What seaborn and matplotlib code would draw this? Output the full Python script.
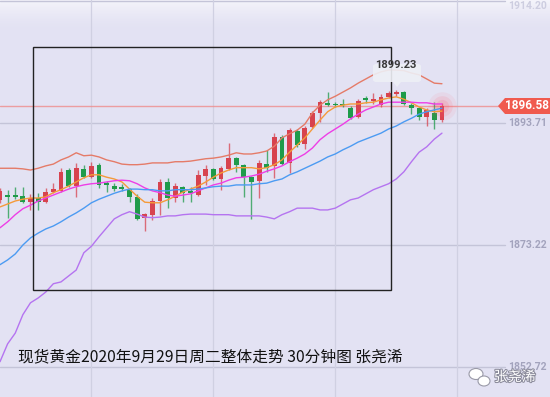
import matplotlib
matplotlib.use("Agg")
import matplotlib.pyplot as plt
import matplotlib.patheffects as pe
from matplotlib.patches import Rectangle, Polygon, FancyBboxPatch, Ellipse
import numpy as np
import pandas as pd
import seaborn as sns

# 30 minute gold candles
opens = [1880.8, 1881.4, 1881.4, 1881.4, 1880.4, 1881.1, 1880.4, 1882.1, 1882.3, 1885.8,
         1883.1, 1886.0, 1884.6, 1886.7, 1883.5, 1883.1, 1882.8, 1882.6, 1881.3, 1877.8,
         1878.3, 1880.6, 1883.8, 1881.1, 1883.0, 1882.1, 1881.6, 1884.8, 1886.0, 1884.3,
         1886.0, 1887.8, 1886.7, 1884.6, 1884.0, 1886.8, 1886.5, 1891.4, 1887.0, 1892.4,
         1890.2, 1893.0, 1895.4, 1897.1, 1896.9, 1896.9, 1896.2, 1894.7, 1897.7, 1897.4,
         1896.7, 1898.1, 1898.6, 1898.9, 1896.7, 1896.2, 1894.7, 1895.4, 1894.2]
highs = [1882.8, 1882.4, 1882.9, 1882.9, 1881.8, 1881.9, 1882.8, 1883.6, 1886.2, 1886.2,
         1887.0, 1886.7, 1887.2, 1887.0, 1884.0, 1883.6, 1883.5, 1882.8, 1881.8, 1878.6,
         1881.1, 1884.3, 1884.5, 1883.6, 1883.1, 1882.9, 1885.8, 1886.7, 1886.2, 1886.5,
         1890.4, 1888.0, 1886.8, 1884.8, 1887.5, 1889.2, 1892.0, 1891.7, 1892.9, 1892.7,
         1893.2, 1895.7, 1897.6, 1898.9, 1897.2, 1897.7, 1896.6, 1897.7, 1898.2, 1898.8,
         1898.6, 1899.1, 1899.23, 1899.1, 1897.1, 1896.4, 1896.2, 1897.2, 1897.1]
lows = [1880.3, 1877.8, 1881.0, 1880.3, 1879.1, 1879.1, 1880.3, 1882.0, 1882.1, 1883.0,
        1881.3, 1884.5, 1884.5, 1882.8, 1882.1, 1882.3, 1882.3, 1880.4, 1877.4, 1875.6,
        1877.4, 1878.3, 1879.4, 1880.4, 1880.4, 1880.4, 1881.4, 1883.3, 1884.1, 1882.5,
        1885.8, 1885.5, 1881.3, 1877.6, 1881.1, 1885.5, 1884.5, 1886.7, 1885.3, 1889.7,
        1889.3, 1892.9, 1893.9, 1896.6, 1896.4, 1896.4, 1894.4, 1894.5, 1897.1, 1896.9,
        1896.4, 1897.9, 1898.3, 1896.7, 1895.2, 1894.2, 1893.2, 1892.7, 1893.9]
closes = [1882.3, 1881.3, 1881.3, 1880.4, 1881.1, 1880.4, 1882.1, 1882.6, 1885.5, 1883.1,
          1886.2, 1884.6, 1886.5, 1883.3, 1883.3, 1882.6, 1882.6, 1881.3, 1877.6, 1878.4,
          1880.6, 1883.8, 1881.1, 1883.1, 1882.0, 1882.0, 1885.0, 1886.0, 1884.3, 1886.2,
          1887.8, 1886.7, 1884.6, 1883.8, 1887.0, 1886.2, 1891.4, 1886.8, 1892.5, 1890.0,
          1892.9, 1895.4, 1897.2, 1896.7, 1896.7, 1896.7, 1894.5, 1897.4, 1897.6, 1897.6,
          1898.1, 1898.8, 1898.9, 1896.9, 1896.2, 1894.7, 1895.9, 1894.2, 1896.58]

# indicator lines
upper_band = [1886.1, 1886.1, 1886.1, 1886.0, 1885.8, 1886.1, 1886.5, 1886.8, 1887.5, 1888.0,
              1888.7, 1888.2, 1888.3, 1888.0, 1887.5, 1887.2, 1886.8, 1886.7, 1886.7, 1886.8,
              1887.0, 1887.0, 1887.0, 1887.2, 1887.2, 1887.3, 1887.5, 1887.7, 1887.8, 1888.0,
              1888.3, 1888.7, 1888.5, 1888.5, 1888.7, 1889.0, 1889.8, 1891.2, 1891.9, 1892.5,
              1893.5, 1895.4, 1896.7, 1897.6, 1898.2, 1898.9, 1899.6, 1900.4, 1901.1, 1901.8,
              1902.3, 1902.6, 1902.6, 1902.5, 1902.1, 1901.8, 1901.1, 1900.4, 1900.3]
ma_fast = [1879.6, 1880.1, 1880.6, 1880.9, 1881.1, 1881.1, 1881.3, 1882.0, 1882.5, 1883.1,
           1883.8, 1884.5, 1885.0, 1885.0, 1884.6, 1884.3, 1883.8, 1882.6, 1881.4, 1880.4,
           1880.3, 1880.3, 1880.8, 1881.4, 1882.1, 1882.6, 1883.1, 1883.8, 1884.6, 1885.3,
           1885.8, 1886.2, 1886.2, 1886.2, 1886.0, 1886.2, 1886.7, 1887.5, 1888.8, 1890.0,
           1891.2, 1892.7, 1894.2, 1895.6, 1896.4, 1896.7, 1896.9, 1896.9, 1897.1, 1897.2,
           1897.6, 1897.9, 1898.1, 1897.7, 1897.1, 1896.4, 1895.9, 1895.6, 1895.7]
ma_mid = [1876.1, 1877.1, 1878.3, 1879.3, 1879.9, 1880.6, 1881.1, 1881.6, 1882.1, 1882.6,
          1883.0, 1883.3, 1883.5, 1883.6, 1883.8, 1884.0, 1884.1, 1884.0, 1883.5, 1882.8,
          1882.3, 1882.0, 1881.6, 1881.4, 1881.6, 1881.8, 1882.3, 1882.8, 1883.3, 1883.6,
          1884.1, 1884.5, 1884.6, 1884.8, 1885.1, 1885.6, 1886.0, 1886.5, 1887.2, 1887.8,
          1888.5, 1889.5, 1890.9, 1891.9, 1892.7, 1893.5, 1894.4, 1895.2, 1895.9, 1896.4,
          1896.9, 1897.2, 1897.2, 1897.2, 1897.2, 1897.1, 1897.1, 1896.9, 1896.9]
ma_slow = [1869.9, 1870.7, 1871.7, 1873.2, 1874.4, 1875.2, 1875.9, 1876.4, 1877.1, 1877.9,
           1878.6, 1879.4, 1880.3, 1880.9, 1881.4, 1881.9, 1882.3, 1882.6, 1882.6, 1882.5,
           1882.5, 1882.3, 1882.3, 1882.5, 1882.5, 1882.5, 1882.6, 1882.8, 1883.0, 1883.1,
           1883.1, 1883.3, 1883.3, 1883.3, 1883.5, 1883.6, 1884.0, 1884.3, 1885.0, 1885.5,
           1886.1, 1886.7, 1887.3, 1888.0, 1888.5, 1889.2, 1889.8, 1890.5, 1891.0, 1891.5,
           1892.0, 1892.7, 1893.2, 1893.9, 1894.5, 1895.2, 1895.6, 1895.9, 1896.2]
lower_band = [1853.6, 1856.6, 1858.4, 1861.5, 1863.5, 1864.3, 1865.3, 1866.7, 1867.0, 1868.0,
              1869.0, 1871.9, 1873.0, 1874.6, 1876.1, 1877.6, 1878.3, 1878.8, 1878.4, 1877.9,
              1877.8, 1877.9, 1878.1, 1878.1, 1878.3, 1878.4, 1878.4, 1878.4, 1878.3, 1878.3,
              1878.3, 1878.1, 1878.1, 1878.1, 1878.1, 1877.9, 1877.6, 1878.3, 1878.8, 1879.4,
              1879.4, 1879.4, 1879.1, 1879.1, 1879.4, 1880.1, 1880.8, 1881.1, 1881.8, 1882.5,
              1883.0, 1883.5, 1884.3, 1885.5, 1887.2, 1888.8, 1889.7, 1891.0, 1892.0]

axis_labels = [1914.20, 1893.71, 1873.22, 1852.72]
last_price = 1896.58
peak_price = 1899.23
title = "现货黄金2020年9月29日周二整体走势 30分钟图 张尧浠"
watermark = "张尧浠"

bg = "#e3e2f3"
red = "#d7434f"
green = "#1f9b4a"

df = pd.DataFrame({"open": opens, "high": highs, "low": lows, "close": closes})
df["idx"] = np.arange(len(df))
df["up"] = df["close"] >= df["open"]

lines = pd.DataFrame({"idx": df["idx"], "upper": upper_band, "fast": ma_fast,
                      "mid": ma_mid, "slow": ma_slow, "lower": lower_band})
lines_long = lines.melt(id_vars="idx", var_name="line", value_name="price")
palette = {"upper": "#e57b68", "fast": "#f59a3a", "mid": "#ee3ee6",
           "slow": "#4c9bf2", "lower": "#b574f0"}

sns.set_theme(style="white")
plt.rcParams['font.family'] = ['Noto Sans CJK SC', 'DejaVu Sans']

fig = plt.figure(figsize=(5.5, 3.97), dpi=100)
fig.patch.set_facecolor(bg)
ax = fig.add_axes([0, 0, 1, 1])
ax.set_axis_off()

step = 7.62  # pixels per candle in the screenshot
xmax = 550 / step
ax.set_xlim(0, xmax)
ax.set_ylim(1847.67, 1914.37)

# faint white glow along the top edge
glow = np.ones((60, 1, 4))
glow[:, 0, 3] = np.linspace(0.75, 0, 60) ** 1.6
ax.imshow(glow, extent=[0, 1, 0.92, 1], transform=ax.transAxes, aspect="auto", zorder=0)

# grid
for p in axis_labels:
    ax.axhline(p, xmax=0.918, color="#c4c4d8", lw=1.0, zorder=1)
for gx in [91, 213, 335, 457]:
    ax.axvline(gx / step, color="#d0d0e2", lw=0.9, zorder=1)
ax.axhline(last_price, color="#ef8c8c", lw=1.0, alpha=0.8, zorder=2)

# candles
colors = np.where(df["up"], red, green)
ax.vlines(df["idx"], df["low"], df["high"], colors=colors, lw=1.0, alpha=0.75, zorder=3)
body_lo = df[["open", "close"]].min(axis=1)
body_h = (df["open"] - df["close"]).abs().clip(lower=0.28)
ax.bar(df["idx"], body_h, bottom=body_lo, width=0.64, color=colors, zorder=4, linewidth=0)

sns.lineplot(data=lines_long, x="idx", y="price", hue="line", palette=palette,
             linewidth=1.0, legend=False, ax=ax, zorder=5)
ax.set_axis_off()
ax.set_xlim(0, xmax)
ax.set_ylim(1847.67, 1914.37)

# glow at the last candle
for s, a in [(420, 0.08), (220, 0.12), (90, 0.15)]:
    ax.scatter([df["idx"].iloc[-1]], [last_price], s=s, color="#ff5a6a", alpha=a,
               linewidths=0, zorder=4)

# frame box
ax.add_patch(Rectangle((33 / 550, 1 - 290 / 397), (391 - 33) / 550, (290 - 47) / 397,
                       transform=ax.transAxes, fill=False, ec="#222222", lw=1.0, zorder=7))

# price labels on the right
tr = matplotlib.transforms.blended_transform_factory(ax.transAxes, ax.transData)
for i, p in enumerate(axis_labels):
    if i == 0:
        # top label sits against the upper edge
        ax.text(547 / 550, 0.997, f"{p:.2f}", transform=ax.transAxes, ha="right",
                va="top", fontsize=7.5, color="#cdcde0", fontweight="bold",
                family="Roboto", zorder=6)
    else:
        ax.text(547 / 550, p, f"{p:.2f}", transform=tr, ha="right", va="center",
                fontsize=7.5, color="#a3a3bd", fontweight="bold", family="Roboto",
                zorder=6)

# last price tag
tag = Polygon([(498 / 550, 1 - 106 / 397), (505 / 550, 1 - 98 / 397), (1, 1 - 98 / 397),
               (1, 1 - 114 / 397), (505 / 550, 1 - 114 / 397)], closed=True,
              transform=ax.transAxes, fc="#f05a4e", ec="none", zorder=8)
ax.add_patch(tag)
ax.text(527 / 550, last_price, f"{last_price:.2f}", transform=tr, ha="center", va="center",
        fontsize=8.5, color="white", fontweight="bold", family="Roboto", zorder=9)

# peak tooltip
peak_i = int(np.argmax(highs))
ax.add_patch(FancyBboxPatch((373 / 550, 1 - 82 / 397), 48 / 550, 18 / 397,
                            boxstyle="round,pad=0,rounding_size=0.006",
                            transform=ax.transAxes, fc="#eef0f6", ec="none", alpha=0.9,
                            zorder=8))
ax.add_patch(Polygon([(393 / 550, 1 - 82 / 397), (401 / 550, 1 - 82 / 397),
                      (397 / 550, 1 - 87 / 397)], transform=ax.transAxes,
                     fc="#eef0f6", ec="none", alpha=0.9, zorder=8))
ax.text(peak_i, 1903.5, f"{peak_price:.2f}", ha="center", va="center", fontsize=8,
        color="#3a3a3a", fontweight="bold", family="Roboto", zorder=9)

# caption
ax.text(18 / 550, 1 - 357 / 397, title, transform=ax.transAxes, ha="left", va="center",
        fontsize=11.3, color="#111111", zorder=9)

# watermark: wechat bubbles + name
for (cx, cy, w, h) in [(476, 374, 14, 11), (484, 381, 12, 10)]:
    ax.add_patch(Ellipse((cx / 550, 1 - cy / 397), w / 550, h / 397, transform=ax.transAxes,
                         fc="white", ec="#9a9aa8", lw=0.8, zorder=9))
ax.text(494 / 550, 1 - 377 / 397, watermark, transform=ax.transAxes, ha="left",
        va="center", fontsize=10, color="white", zorder=9,
        path_effects=[pe.withStroke(linewidth=1.5, foreground="#8c8c9c")])

fig.savefig("out.png", dpi=100, facecolor=bg)
